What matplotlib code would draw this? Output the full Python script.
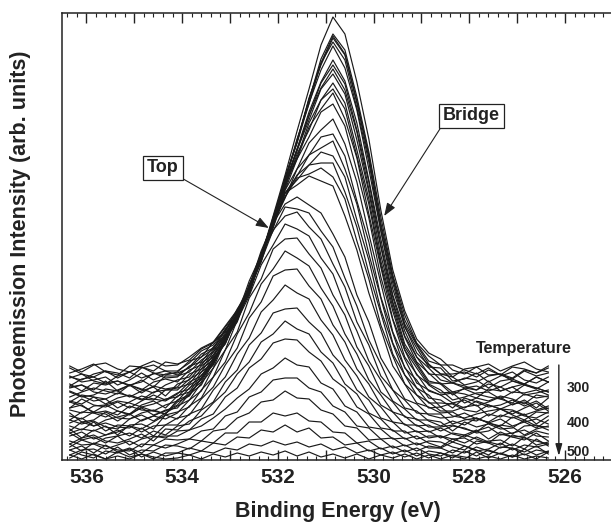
import matplotlib
matplotlib.use("Agg")
import matplotlib.pyplot as plt
from matplotlib.ticker import MultipleLocator, FuncFormatter

# Binding energy grid (eV)
binding_energy = [536.35, 536.10, 535.85, 535.60, 535.35, 535.10, 534.85, 534.60, 534.35, 534.10,
                  533.85, 533.60, 533.35, 533.10, 532.85, 532.60, 532.35, 532.10, 531.85, 531.60,
                  531.35, 531.10, 530.85, 530.60, 530.35, 530.10, 529.85, 529.60, 529.35, 529.10,
                  528.85, 528.60, 528.35, 528.10, 527.85, 527.60, 527.35, 527.10, 526.85, 526.60, 526.35]

# Offset spectra (arb. units), lowest temperature first
s01 = [94,88,95,97,91,88,94,99,94,95,103,112,118,134,150,174,204,244,285,329,371,415,443,426,378,321,250,190,149,121,107,101,90,86,93,96,89,94,98,91,88]
s02 = [87,91,96,88,85,94,93,89,98,96,100,111,117,133,148,172,202,241,279,320,360,401,426,410,363,308,243,185,145,117,104,95,95,90,86,92,85,93,91,87,94]
s03 = [92,86,83,89,87,82,92,95,89,89,97,109,115,130,149,170,204,239,281,318,361,397,424,406,359,305,237,183,140,116,99,95,83,91,93,85,86,82,90,87,92]
s04 = [83,80,86,89,82,88,93,87,85,88,99,103,118,128,151,169,206,240,283,318,362,395,422,405,357,302,234,181,136,115,96,86,86,88,83,90,85,81,89,84,87]
s05 = [82,86,79,76,84,88,82,86,89,85,93,106,112,131,145,172,202,243,279,321,356,397,418,400,352,298,230,177,133,112,93,92,79,81,87,78,84,88,80,77,83]
s06 = [84,78,80,83,75,80,87,80,86,87,92,103,111,129,146,170,205,240,282,317,357,390,414,392,350,291,229,171,134,107,95,86,83,75,78,84,86,79,76,83,78]
s07 = [74,81,83,77,79,75,78,87,82,83,94,98,113,125,148,168,204,238,278,311,348,378,400,379,337,280,221,165,129,103,92,80,77,82,80,72,79,81,76,83,78]
s08 = [76,69,77,75,79,74,80,73,84,84,88,100,108,127,143,171,201,241,275,311,344,377,395,376,330,278,215,163,124,103,86,85,77,72,70,76,73,79,75,71,78]
s09 = [72,75,70,79,69,75,70,78,81,78,90,95,110,124,146,168,203,238,278,309,345,372,391,370,328,271,213,158,123,98,87,76,77,74,70,79,69,73,76,72,68]
s10 = [73,75,68,66,70,75,71,67,75,80,83,97,105,125,142,170,200,240,274,310,340,371,386,366,320,268,205,157,116,97,79,76,65,72,74,69,73,67,75,72,68]
s11 = [63,68,72,69,66,75,67,74,71,73,86,91,108,121,145,166,203,236,276,303,337,360,377,357,310,261,199,153,113,95,77,77,68,66,62,71,69,73,65,67,70]
s12 = [68,63,65,71,69,63,69,73,64,76,80,94,103,124,141,171,200,241,272,306,330,360,371,351,304,256,195,149,110,92,75,67,68,71,66,63,61,68,67,70,65]
s13 = [69,64,59,61,67,64,60,68,70,70,81,88,105,119,145,167,204,236,276,301,333,351,367,341,302,246,193,141,110,85,76,70,60,63,67,68,61,57,66,62,64]
s14 = [58,65,63,56,62,65,61,60,70,72,76,91,100,122,140,171,199,240,270,301,323,348,356,334,289,242,183,140,103,86,69,65,67,57,62,59,64,61,56,65,63]
s15 = [59,56,63,61,52,58,64,61,59,66,78,84,102,117,143,166,203,233,270,291,317,330,341,316,278,226,177,128,101,77,70,65,57,60,54,58,63,55,60,52,62]
s16 = [52,61,55,53,58,52,59,65,60,67,71,88,97,121,138,170,198,236,262,291,305,323,326,304,259,218,163,127,92,80,62,60,52,62,58,53,55,60,54,59,51]
s17 = [58,54,48,55,59,57,53,56,61,63,75,82,102,116,144,167,204,232,267,284,305,312,319,291,256,206,162,117,93,72,65,53,57,52,59,55,51,56,58,50,54]
s18 = [50,47,54,55,49,46,55,59,52,64,68,85,96,121,140,172,200,238,263,285,295,308,304,283,240,200,150,116,85,72,57,57,56,50,48,55,51,46,52,57,49]
s19 = [52,55,47,49,45,54,50,49,55,59,72,80,100,117,145,170,206,235,267,280,295,297,297,268,233,187,147,106,85,65,58,49,49,53,55,44,51,50,45,49,52]
s20 = [40,48,47,43,49,45,53,49,46,60,65,82,95,121,141,174,203,240,263,282,286,292,283,261,219,181,135,104,76,65,52,53,44,42,46,49,51,45,40,48,47]
s21 = [44,41,48,46,39,46,52,45,49,55,68,78,99,118,147,173,209,237,267,275,284,279,274,244,210,167,131,94,76,57,53,47,48,41,39,46,43,49,44,42,48]
s22 = [47,38,40,48,42,41,47,50,46,58,64,82,96,123,145,179,205,237,256,263,255,247,226,203,165,138,102,82,61,56,45,42,43,47,41,38,45,42,46,36,44]
s23 = [37,42,34,40,43,46,39,44,50,52,66,75,98,117,147,173,207,229,253,251,247,229,213,182,154,120,96,70,60,47,46,46,36,40,42,37,34,43,38,41,36]
s24 = [40,36,39,33,31,41,45,39,47,54,60,77,92,120,140,176,199,230,244,248,233,221,196,173,138,115,84,70,52,49,39,34,39,35,42,37,41,34,38,32,40]
s25 = [29,38,34,37,33,32,40,44,41,47,60,69,92,110,140,164,195,215,236,231,224,202,186,154,129,99,80,59,51,40,40,38,29,38,33,36,31,32,40,34,33]
s26 = [34,30,38,29,35,34,31,38,45,48,53,70,83,110,128,162,181,211,221,222,206,192,165,145,113,94,68,58,43,41,33,33,35,31,28,37,33,26,34,35,30]
s27 = [27,31,29,34,25,35,36,31,45,41,54,62,83,98,126,147,176,191,209,202,194,172,154,126,106,80,65,48,44,34,35,29,34,32,27,29,35,33,25,31,34]
s28 = [31,22,30,25,28,34,28,34,35,42,45,61,73,95,112,142,158,184,190,191,174,161,135,118,91,76,55,48,35,35,28,32,26,23,29,33,25,27,30,24,23]
s29 = [24,28,21,25,30,24,32,24,35,35,46,51,70,83,106,122,148,160,175,167,161,140,125,100,84,63,53,38,36,28,29,22,27,25,30,21,28,23,24,29,26]
s30 = [27,20,23,17,24,27,22,29,25,34,36,50,58,78,90,115,127,147,151,152,138,127,105,92,70,60,42,38,27,29,22,24,18,25,21,17,26,23,20,27,19]
s31 = [16,22,25,19,17,21,26,19,31,30,39,44,57,68,86,98,118,126,139,131,126,108,97,76,66,47,41,29,29,21,24,24,21,17,23,18,15,25,22,19,16]
s32 = [19,15,16,22,24,15,21,24,22,29,30,41,46,63,72,92,101,117,121,120,108,99,81,72,53,46,32,30,21,24,17,13,21,22,16,19,20,14,23,15,18]
s33 = [13,20,16,11,15,19,13,23,24,24,30,34,42,51,62,71,86,92,102,95,93,77,71,54,48,33,31,21,22,15,19,18,13,10,19,17,12,16,11,21,14]
s34 = [16,9,17,14,10,9,16,15,21,20,21,29,31,44,48,63,68,80,82,82,72,68,54,48,34,32,21,22,14,17,12,12,18,14,9,11,17,10,15,13,16]
s35 = [10,14,7,15,8,12,7,15,12,16,21,19,29,31,42,47,58,60,69,62,61,50,46,34,32,20,21,12,15,9,14,12,7,14,10,5,13,12,8,14,6]
s36 = [5,10,11,6,13,5,10,9,15,14,11,19,17,27,27,38,38,47,44,47,39,38,28,27,17,19,11,14,8,12,6,4,10,7,13,9,6,12,5,10,8]
s37 = [10,5,2,9,7,11,3,8,4,7,12,9,17,15,23,22,30,28,35,28,32,22,23,15,17,9,12,6,10,4,9,7,2,9,4,10,6,3,11,5,9]
s38 = [2,8,5,1,8,3,6,1,7,7,5,9,7,12,10,16,14,19,15,18,13,16,10,13,7,10,5,8,3,7,2,7,4,1,8,2,7,3,6,1,8]
s39 = [5,1,6,1,4,1,6,3,1,2,5,1,6,3,7,4,8,5,9,4,8,3,6,2,6,1,5,2,6,1,5,1,5,3,1,4,1,5,1,4,2]

spectra = [s01, s02, s03, s04, s05, s06, s07, s08, s09, s10, s11, s12, s13, s14, s15, s16, s17, s18, s19, s20,
           s21, s22, s23, s24, s25, s26, s27, s28, s29, s30, s31, s32, s33, s34, s35, s36, s37, s38, s39]

temp_labels = ["300", "400", "500"]
temp_levels = [72, 37, 8]

FONT = ["Liberation Sans", "DejaVu Sans"]
plt.rcParams["font.family"] = FONT
plt.rcParams["font.weight"] = "bold"

fig = plt.figure(figsize=(6.11, 5.24), dpi=100)
ax = fig.add_axes([61.6 / 611, 64 / 524, 1 - 61.6 / 611, 446.7 / 524])

for s in spectra:
    n = min(len(s), len(binding_energy))
    ax.plot(binding_energy[:n], s[:n], color="#1a1a1a", lw=0.85)

ax.set_xlim(536.52, 525.04)
ax.set_ylim(0, 446.7)

ax.xaxis.set_major_locator(MultipleLocator(1))
ax.xaxis.set_minor_locator(MultipleLocator(0.2))
ax.xaxis.set_major_formatter(FuncFormatter(lambda v, p: f"{v:.0f}" if round(v) % 2 == 0 else ""))
ax.tick_params(axis="x", which="major", direction="in", length=7, width=1.0, top=True, bottom=True,
               labelsize=15, pad=6, colors="#222222")
ax.tick_params(axis="x", which="minor", direction="in", length=3, width=0.8, top=True, bottom=True,
               colors="#222222")
for lab in ax.get_xticklabels():
    lab.set_fontweight("bold")
ax.set_yticks([])
for side in ("left", "top", "bottom"):
    ax.spines[side].set_linewidth(1.1)
    ax.spines[side].set_color("#222222")
ax.spines["right"].set_visible(False)

fig.text(338 / 611, 1 - 511 / 524, "Binding Energy (eV)", ha="center", va="center",
         fontsize=15.5, fontweight="bold", color="#222222")
fig.text(21 / 611, 1 - 234 / 524, "Photoemission Intensity (arb. units)", ha="center", va="center",
         rotation=90, fontsize=15.5, fontweight="bold", color="#222222")

box = dict(boxstyle="square,pad=0.22", fc="white", ec="#222222", lw=0.9)
arrow = dict(arrowstyle="-|>,head_length=0.6,head_width=0.22", color="#222222", lw=0.8,
             shrinkA=0, shrinkB=0)
ax.annotate("Top", xy=(532.19, 232), xytext=(534.40, 292), ha="center", va="center",
            fontsize=13, fontweight="bold", color="#222222", bbox=box,
            arrowprops=dict(arrow, relpos=(1.0, 0.0)))
ax.annotate("Bridge", xy=(529.78, 244), xytext=(527.96, 344), ha="center", va="center",
            fontsize=13, fontweight="bold", color="#222222", bbox=box,
            arrowprops=dict(arrow, relpos=(0.0, 0.0)))

ax.text(526.86, 112, "Temperature", ha="center", va="center", fontsize=11.5,
        fontweight="bold", color="#222222")
ax.annotate("", xy=(526.13, 4), xytext=(526.13, 95),
            arrowprops=dict(arrowstyle="-|>,head_length=0.7,head_width=0.2", color="#222222",
                            lw=1.0, shrinkA=0, shrinkB=0))
for lab, lev in zip(temp_labels, temp_levels):
    ax.text(525.72, lev, lab, ha="center", va="center", fontsize=10, fontweight="bold",
            color="#222222")

fig.savefig("out.png", dpi=100)
